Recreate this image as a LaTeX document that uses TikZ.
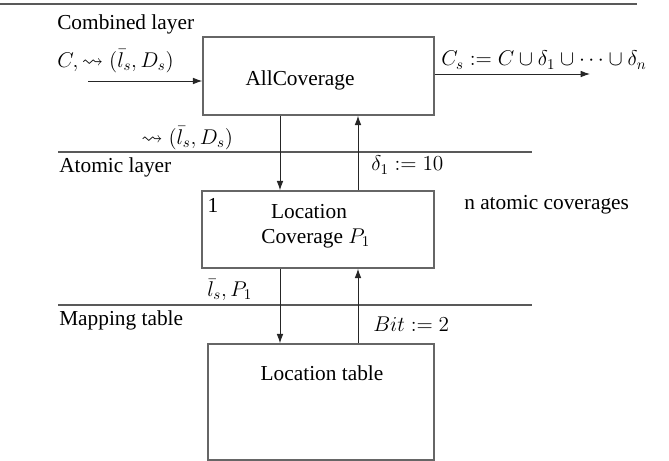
\RequirePackage{fix-cm}
\documentclass[tikz,border=0pt]{standalone}
\usepackage{amssymb}
\usepackage{fontspec}
\setmainfont{Liberation Serif}
\usetikzlibrary{arrows.meta}
\definecolor{rulecol}{gray}{0.35}
\definecolor{boxcol}{gray}{0.4}
\definecolor{arrcol}{gray}{0.15}
\tikzset{
  box/.style={draw=boxcol, line width=1.1pt, inner sep=0pt},
  rulel/.style={draw=rulecol, line width=1.2pt},
  toprule/.style={draw=rulecol, line width=1.6pt},
  arr/.style={draw=arrcol, line width=0.7pt, -{Latex[length=7pt,width=5pt]}},
  lab/.style={inner sep=0pt, anchor=west},
  ctr/.style={inner sep=0pt},
}
\begin{document}
\begin{tikzpicture}[x=0.75pt,y=-0.75pt,font=\fontsize{16}{19}\selectfont]
\useasboundingbox (0,0) rectangle (669,461);
% rules
\coordinate (tr1) at (0,4);
\coordinate (tr2) at (637,4);
\draw[toprule] (tr1) -- (tr2);
\coordinate (al1) at (58,152);
\coordinate (al2) at (532,152);
\draw[rulel] (al1) -- (al2);
\coordinate (ml1) at (58,305);
\coordinate (ml2) at (532,305);
\draw[rulel] (ml1) -- (ml2);
% layer labels
\node[lab] (comb) at (57,24) {Combined layer};
\node[lab] (atom) at (59,167) {Atomic layer};
\node[lab] (mapt) at (59,320) {Mapping table};
% boxes
\node[box, minimum width=173.25pt, minimum height=58.5pt] (all) at (318.5,76) {};
\node[ctr] (alltxt) at (300,80) {AllCoverage};
\node[box, minimum width=174pt, minimum height=57.75pt] (loc) at (318,229.5) {};
\node[ctr] (one) at (213,205) {1};
\node[ctr, align=center] (loctxt) at (309,226) {Location\\ \hspace*{10pt}Coverage $P_1$};
\node[lab] (natom) at (464,205) {n atomic coverages};
\node[box, minimum width=169.5pt, minimum height=87pt] (tab) at (321,402) {};
\node[ctr] (tabtxt) at (322,373) {Location table};
% columns
\coordinate (cd) at (280,0);
\coordinate (cu) at (358,0);
% input / output
\coordinate (inl) at (88,81);
\coordinate (outr) at (590,74);
\draw[arr] (inl) -- (inl -| all.west);
\draw[arr] (all.east |- outr) -- (outr);
\node[lab] (inlab) at (57,61) {$C,\leadsto(\bar{l}_s,D_s)$};
\node[lab] (outlab) at (441,60) {$C_s := C\cup\delta_1\cup\cdots\cup\delta_n$};
% vertical arrows
\draw[arr] (all.south -| cd) -- (loc.north -| cd);
\draw[arr] (loc.north -| cu) -- (all.south -| cu);
\draw[arr] (loc.south -| cd) -- (tab.north -| cd);
\draw[arr] (tab.north -| cu) -- (loc.south -| cu);
% arrow labels
\node[lab] (l1) at (141,138) {$\leadsto(\bar{l}_s,D_s)$};
\node[lab] (l2) at (371,165) {$\delta_1 := 10$};
\node[lab] (l3) at (207,290) {$\bar{l}_s,P_1$};
\node[lab] (l4) at (373,324) {$Bit := 2$};
\end{tikzpicture}
\end{document}
